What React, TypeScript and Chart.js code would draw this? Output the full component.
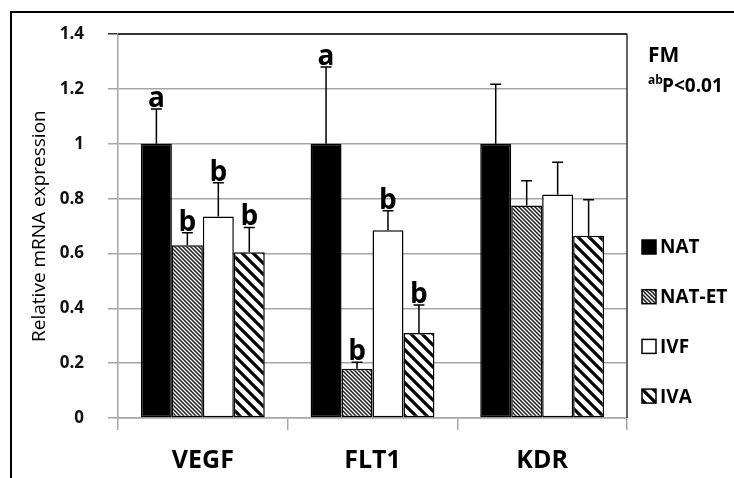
import React, { useEffect, useRef } from 'react';
import { Chart, registerables } from 'chart.js';

Chart.register(...registerables);

// ---- data ----
const categories = ['VEGF', 'FLT1', 'KDR'];
const seriesNames = ['NAT', 'NAT-ET', 'IVF', 'IVA'];

const natValues = [1.0, 1.0, 1.0];
const natErr = [0.127, 0.28, 0.217];
const natLetters = ['a', 'a', ''];

const natEtValues = [0.63, 0.18, 0.775];
const natEtErr = [0.046, 0.023, 0.09];
const natEtLetters = ['b', 'b', ''];

const ivfValues = [0.735, 0.685, 0.815];
const ivfErr = [0.123, 0.071, 0.118];
const ivfLetters = ['b', 'b', ''];

const ivaValues = [0.605, 0.31, 0.665];
const ivaErr = [0.09, 0.102, 0.131];
const ivaLetters = ['b', 'b', ''];

const yTickLabels = ['0', '0.2', '0.4', '0.6', '0.8', '1', '1.2', '1.4'];
const yTitle = 'Relative mRNA expression';
const noteTitle = 'FM';
const noteSup = 'ab';
const noteText = 'P<0.01';

const FONT = '"Open Sans", "DejaVu Sans", sans-serif';

function makeStripePattern(size: number, lineWidth: number, color: string) {
  const c = document.createElement('canvas');
  c.width = size;
  c.height = size;
  const g = c.getContext('2d')!;
  g.fillStyle = '#ffffff';
  g.fillRect(0, 0, size, size);
  g.strokeStyle = color;
  g.lineWidth = lineWidth;
  g.beginPath();
  for (let k = -2; k <= 2; k++) {
    g.moveTo(k * size - size, -size);
    g.lineTo(k * size + 2 * size, 2 * size);
  }
  g.stroke();
  return g.createPattern(c, 'repeat') as CanvasPattern;
}

export default function App() {
  const canvasRef = useRef<HTMLCanvasElement | null>(null);

  useEffect(() => {
    const canvas = canvasRef.current;
    if (!canvas) return;

    const finePattern = makeStripePattern(4, 1.5, '#1a1a1a');
    const boldPattern = makeStripePattern(11, 3.2, '#000000');

    const fills: (string | CanvasPattern)[] = ['#000000', finePattern, '#ffffff', boldPattern];
    const valueSets = [natValues, natEtValues, ivfValues, ivaValues];
    const errSets = [natErr, natEtErr, ivfErr, ivaErr];
    const letterSets = [natLetters, natEtLetters, ivfLetters, ivaLetters];

    const decor = {
      id: 'decor',
      beforeDraw(chart: any) {
        const ctx = chart.ctx;
        ctx.save();
        ctx.fillStyle = '#ffffff';
        ctx.fillRect(0, 0, chart.width, chart.height);
        ctx.strokeStyle = '#000000';
        ctx.lineWidth = 2;
        ctx.beginPath();
        ctx.moveTo(11, chart.height);
        ctx.lineTo(11, 12);
        ctx.lineTo(chart.width, 12);
        ctx.stroke();
        ctx.restore();
      },
      afterDatasetsDraw(chart: any) {
        const ctx = chart.ctx;
        const yScale = chart.scales.y;
        ctx.save();
        for (let i = 0; i < valueSets.length; i++) {
          const meta = chart.getDatasetMeta(i);
          meta.data.forEach((el: any, j: number) => {
            const top = yScale.getPixelForValue(valueSets[i][j] + errSets[i][j]);
            ctx.strokeStyle = '#000000';
            ctx.lineWidth = 1.5;
            ctx.beginPath();
            ctx.moveTo(el.x, el.y);
            ctx.lineTo(el.x, top);
            ctx.moveTo(el.x - 5.5, top);
            ctx.lineTo(el.x + 5.5, top);
            ctx.stroke();
            const letter = letterSets[i][j];
            if (letter) {
              ctx.fillStyle = '#000000';
              ctx.font = `bold 28px ${FONT}`;
              ctx.textAlign = 'center';
              ctx.textBaseline = 'alphabetic';
              ctx.fillText(letter, el.x, top - 2);
            }
          });
        }
        ctx.restore();
      },
      afterDraw(chart: any) {
        const ctx = chart.ctx;
        const { left, right, top, bottom } = chart.chartArea;
        ctx.save();
        // plot border top & right
        ctx.strokeStyle = '#333333';
        ctx.lineWidth = 1.5;
        ctx.beginPath();
        ctx.moveTo(left, top);
        ctx.lineTo(right, top);
        ctx.lineTo(right, bottom);
        ctx.stroke();

        // note
        const nx = right + 21;
        ctx.fillStyle = '#000000';
        ctx.textAlign = 'left';
        ctx.textBaseline = 'alphabetic';
        ctx.font = `bold 21px ${FONT}`;
        ctx.fillText(noteTitle, nx, 62);
        ctx.font = `bold 12px ${FONT}`;
        ctx.fillText(noteSup, nx, 84);
        ctx.font = `bold 19px ${FONT}`;
        ctx.fillText(noteText, nx + 14, 92);

        // legend
        const lx = right + 15;
        const ly0 = 247;
        const step = 49.7;
        for (let i = 0; i < seriesNames.length; i++) {
          const cy = ly0 + i * step;
          ctx.fillStyle = fills[i] as any;
          ctx.fillRect(lx, cy - 7, 14, 14);
          ctx.strokeStyle = '#000000';
          ctx.lineWidth = 1.5;
          ctx.strokeRect(lx, cy - 7, 14, 14);
          ctx.fillStyle = '#000000';
          ctx.font = `bold 19px ${FONT}`;
          ctx.textBaseline = 'middle';
          ctx.fillText(seriesNames[i], lx + 18, cy + 1);
        }
        ctx.restore();
      },
    };

    const chart = new Chart(canvas, {
      type: 'bar',
      data: {
        labels: categories,
        datasets: seriesNames.map((name, i) => ({
          label: name,
          data: valueSets[i],
          backgroundColor: fills[i] as any,
          borderColor: '#000000',
          borderWidth: 1.5,
          borderSkipped: false,
          categoryPercentage: 0.73,
          barPercentage: 1.0,
        })),
      },
      options: {
        animation: false,
        responsive: false,
        devicePixelRatio: 1,
        layout: { padding: { left: 0, top: 28, right: 107, bottom: 0 } },
        plugins: {
          legend: { display: false },
          tooltip: { enabled: false },
        },
        scales: {
          x: {
            grid: {
              display: true,
              drawOnChartArea: false,
              drawTicks: true,
              tickLength: 12,
              color: '#a6a6a6',
              lineWidth: 1.5,
              offset: true,
            },
            border: { display: true, color: '#a6a6a6', width: 1.5 },
            ticks: {
              font: { family: FONT, size: 25, weight: 'bold' },
              color: '#000000',
              padding: 16,
              maxRotation: 0,
            },
            afterFit: (scale: any) => {
              scale.height = 60;
            },
          },
          y: {
            min: 0,
            max: 1.4,
            ticks: {
              stepSize: 0.2,
              font: { family: FONT, size: 17, weight: 'bold' },
              color: '#111111',
              padding: 24,
              callback: (_v: any, index: number) => yTickLabels[index],
            },
            grid: {
              color: (ctx: any) => (ctx.tick && Math.abs(ctx.tick.value - 1.4) < 1e-6 ? '#333333' : '#a6a6a6'),
              lineWidth: 1.5,
              tickLength: 10,
              drawTicks: true,
            },
            border: { display: true, color: '#a6a6a6', width: 1.5 },
            title: {
              display: true,
              text: yTitle,
              font: { family: FONT, size: 19, weight: 'normal' },
              color: '#000000',
              padding: { top: 28, bottom: 0 },
            },
            afterFit: (scale: any) => {
              scale.width = 118;
            },
          },
        },
      },
      plugins: [decor],
    });

    return () => chart.destroy();
  }, []);

  return (
    <div style={{ position: 'absolute', left: 0, top: 0, width: 734, height: 478, background: '#fff' }}>
      <canvas ref={canvasRef} width={734} height={478} style={{ display: 'block', width: 734, height: 478 }} />
    </div>
  );
}
